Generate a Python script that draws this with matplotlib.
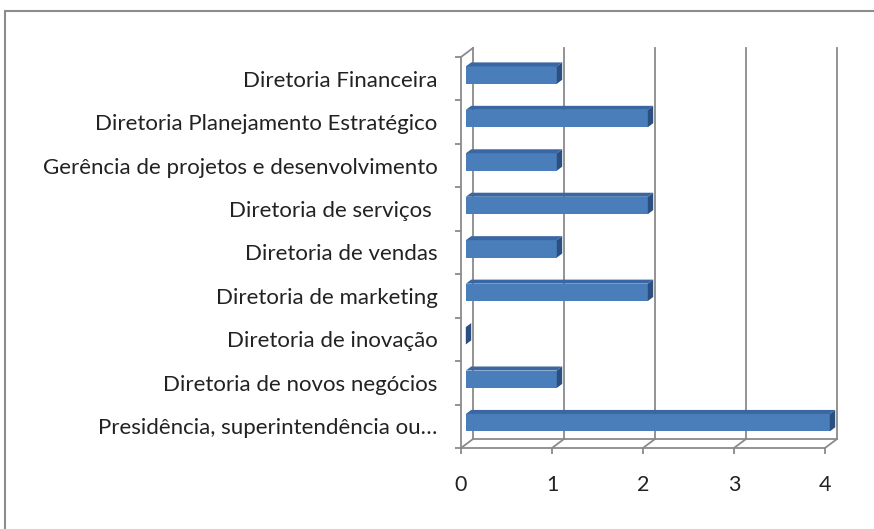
import matplotlib
matplotlib.use('Agg')
import matplotlib.pyplot as plt
from matplotlib.patches import Polygon, Rectangle
from matplotlib.lines import Line2D
import numpy as np

categories = ["Presidência, superintendência ou…", "Diretoria de novos negócios",
              "Diretoria de inovação", "Diretoria de marketing", "Diretoria de vendas",
              "Diretoria de serviços ", "Gerência de projetos e desenvolvimento",
              "Diretoria Planejamento Estratégico", "Diretoria Financeira"]
values = [4, 1, 0, 2, 1, 2, 1, 2, 1]
xticks = [0, 1, 2, 3, 4]

W, H = 874, 529
fig = plt.figure(figsize=(W / 100, H / 100), dpi=100)
ax = fig.add_axes([461 / W, (H - 448) / H, 364 / W, 391 / H])
ax.set_xlim(0, 4)
ax.set_ylim(-0.5, len(categories) - 0.5)
ax.patch.set_visible(False)

DX, DY = 12, 9          # depth offset of back wall in pixels
F1, F2 = 0.40, 0.85     # bar front/back depth fractions
grey = '#8a8a8a'
LW = 1.3

def sh(x, y, f):
    p = ax.transData.transform((x, y))
    return tuple(ax.transData.inverted().transform(p + np.array([DX * f, DY * f])))

y0, y1 = -0.5, len(categories) - 0.5

def line(p, q, **kw):
    ax.add_line(Line2D([p[0], q[0]], [p[1], q[1]], color=grey, lw=LW,
                       clip_on=False, zorder=1, **kw))

# back wall gridlines
for t in xticks:
    line(sh(t, y0, 1), sh(t, y1, 1))
    line((t, y0), sh(t, y0, 1))
line(sh(0, y0, 1), sh(4, y0, 1))
line((0, y1), sh(0, y1, 1))

# bars
front = '#4a7ebb'
top = '#3a67a3'
side = '#2a4f80'
h = 0.4
pos = np.arange(len(categories))
for yi, v in zip(pos, values):
    yt, yb = yi + h / 2, yi - h / 2
    ax.add_patch(Polygon([sh(0, yb, F1), sh(v, yb, F1), sh(v, yt, F1), sh(0, yt, F1)],
                         closed=True, fc=front, ec='none', zorder=3, clip_on=False))
    ax.add_patch(Polygon([sh(0, yt, F1), sh(v, yt, F1), sh(v, yt, F2), sh(0, yt, F2)],
                         closed=True, fc=top, ec='none', zorder=3, clip_on=False))
    ax.add_patch(Polygon([sh(v, yb, F1), sh(v, yb, F2), sh(v, yt, F2), sh(v, yt, F1)],
                         closed=True, fc=side, ec='none', zorder=3, clip_on=False))

for s in ['top', 'right']:
    ax.spines[s].set_visible(False)
for s in ['left', 'bottom']:
    ax.spines[s].set_color(grey)
    ax.spines[s].set_linewidth(LW)

FONT = 'Lato'
ax.set_xticks(xticks)
ax.set_xticklabels([str(t) for t in xticks], fontsize=15.5, family=FONT, color='#222222')
ax.tick_params(axis='x', length=4.3, width=LW, color=grey, pad=15)
ax.set_yticks(pos)
ax.set_yticklabels(categories, fontsize=16, family=FONT, color='#222222')
ax.tick_params(axis='y', which='major', length=0, pad=17)
ax.set_yticks(np.arange(-0.5, len(categories)), minor=True)
ax.tick_params(axis='y', which='minor', length=4.3, width=LW, color=grey)

# outer chart border
fig.patches.append(Rectangle((5 / W, -0.01), 1.0, 1 - 11 / H + 0.01, transform=fig.transFigure,
                             fill=False, ec='#8c8c8c', lw=1.5))

fig.savefig('out.png', dpi=100)
